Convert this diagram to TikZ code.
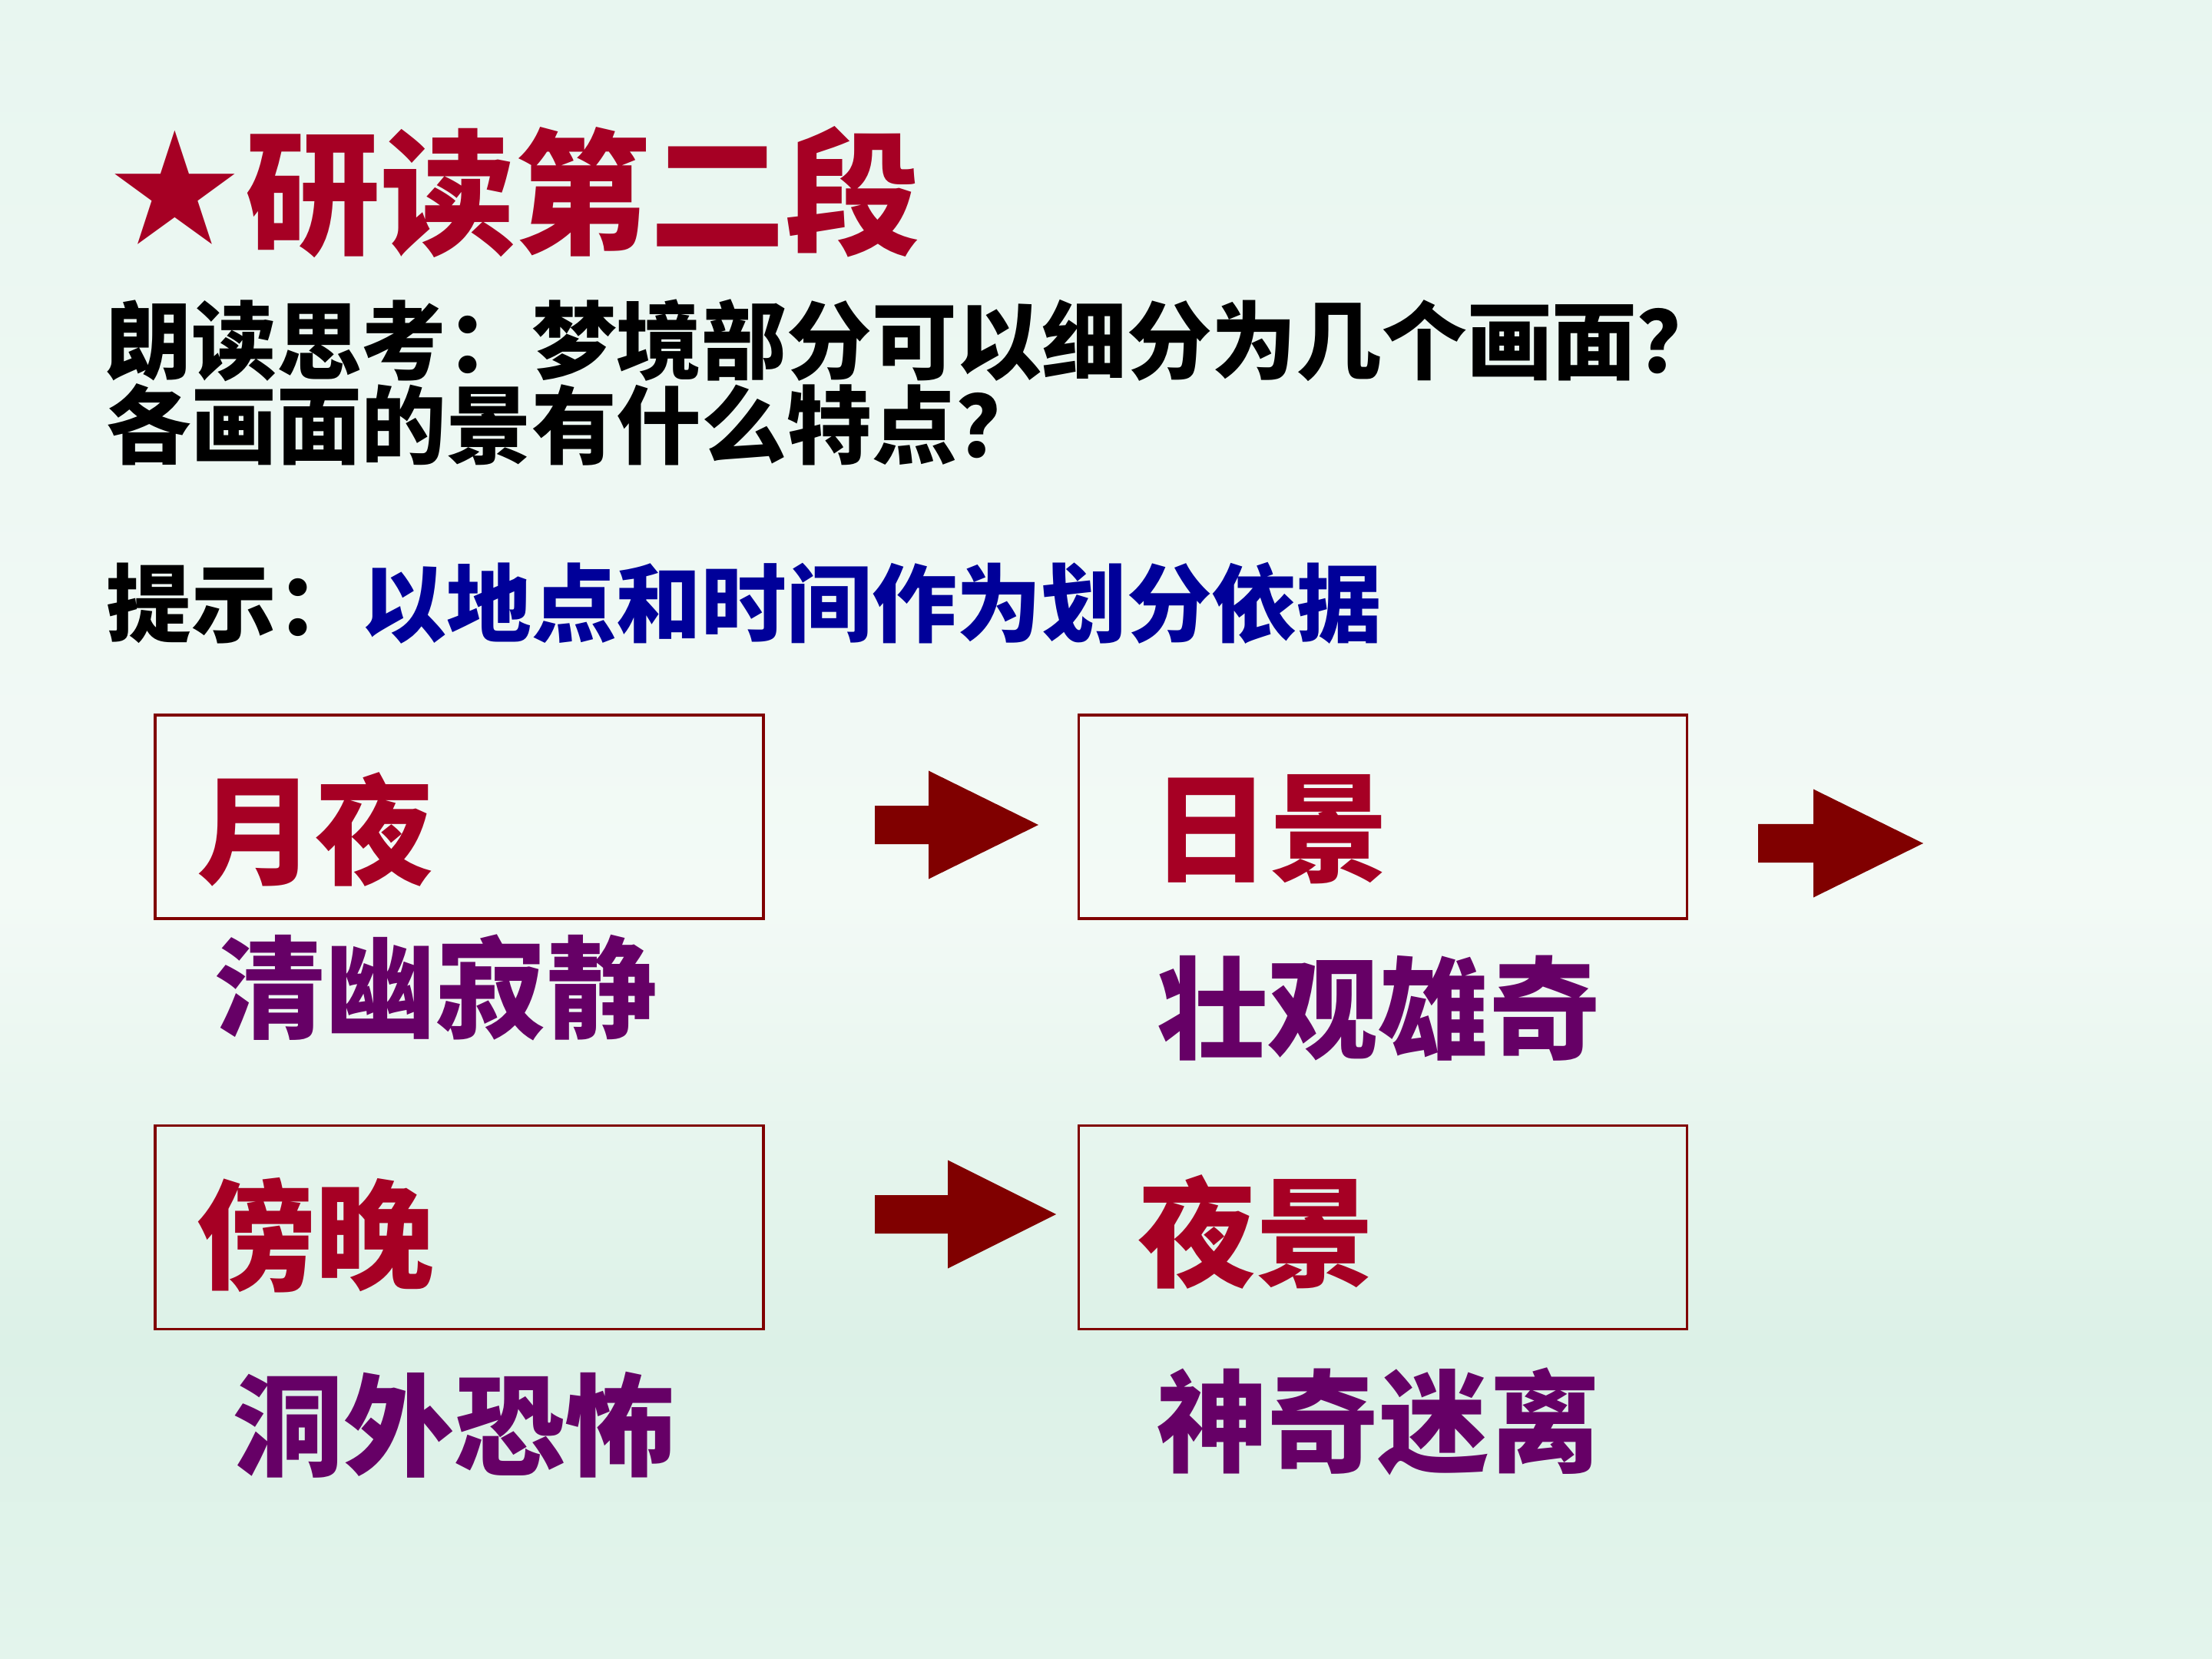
\documentclass[tikz,border=0pt]{standalone}
\usepackage{fontspec}
\setmainfont{Noto Sans CJK SC}
\newfontfamily\symfont{DejaVu Sans}
\usetikzlibrary{positioning}
\definecolor{titred}{RGB}{166,0,36}
\definecolor{cadre}{RGB}{128,0,0}
\definecolor{descviolet}{RGB}{102,0,102}
\definecolor{hintblue}{RGB}{0,0,153}
\definecolor{fondhaut}{RGB}{232,246,240}
\definecolor{fondclair}{RGB}{243,250,246}
\definecolor{fondmilieu}{RGB}{220,241,231}
\definecolor{fondbas}{RGB}{227,244,236}

\begin{document}
\begin{tikzpicture}[
    titre/.style={anchor=west, inner sep=0pt, text=titred,
      font=\bfseries\fontsize{50pt}{50pt}\selectfont},
    question/.style={anchor=west, inner sep=0pt, align=left,
      font=\bfseries\fontsize{31.5pt}{30pt}\selectfont},
    scene/.style={rectangle, draw=cadre, line width=0.9pt,
      minimum width=7.92cm, minimum height=2.65cm, inner sep=0pt},
    scenetxt/.style={inner sep=0pt, text=titred,
      font=\bfseries\fontsize{44pt}{44pt}\selectfont},
    desc/.style={anchor=west, inner sep=0pt, text=descviolet,
      font=\bfseries\fontsize{41pt}{41pt}\selectfont},
    fleche/.style={fill=cadre, draw=none}
  ]
    % fond
    \useasboundingbox (0,0) rectangle (28.8,-21.6);
    \shade[top color=fondhaut, bottom color=fondclair] (0,0) rectangle (28.8,-11.7);
    \shade[top color=fondclair, bottom color=fondmilieu] (0,-11.7) rectangle (28.8,-17.5);
    \shade[top color=fondmilieu, bottom color=fondbas] (0,-17.5) rectangle (28.8,-21.6);

    \node[titre] (titre) at (1.36,-2.50) {{\symfont\fontsize{58pt}{58pt}\selectfont ★}研读第二段};
    \node[question] (question) at (1.38,-4.98)
      {朗读思考：梦境部分可以细分为几个画面？\\各画面的景有什么特点？};
    \node[question] (tishi) at (1.38,-7.85) {提示：\textcolor{hintblue}{以地点和时间作为划分依据}};

    \node[scene] (yueye) at (5.98,-10.635) {};
    \node[scene, right=4.07cm of yueye] (rijing) {};
    \node[scene, below=2.66cm of yueye] (bangwan) {};
    \node[scene, below=2.66cm of rijing] (yejing) {};

    \node[scenetxt, right=0.55cm of yueye.west, yshift=-0.165cm] (t1) {月夜};
    \node[scenetxt, right=0.96cm of rijing.west, yshift=-0.165cm] (t2) {日景};
    \node[scenetxt, right=0.55cm of bangwan.west, yshift=-0.11cm] (t3) {傍晚};
    \node[scenetxt, right=0.78cm of yejing.west, yshift=-0.06cm] (t4) {夜景};

    \node[desc] (d1) at (2.79,-12.86) {清幽寂静};
    \node[desc] (d2) at (15.06,-13.13) {壮观雄奇};
    \node[desc] (d3) at (3.03,-18.55) {洞外恐怖};
    \node[desc] (d4) at (15.06,-18.51) {神奇迷离};

    % fleches pleines
    \coordinate (f1) at (11.39,-10.74);
    \coordinate (f2) at (22.89,-10.98);
    \coordinate (f3) at (11.39,-15.81);
    \fill[fleche] (f1) ++(0,0.25) -- ++(0.70,0) -- ++(0,0.455) -- ++(1.43,-0.705)
      -- ++(-1.43,-0.705) -- ++(0,0.455) -- ++(-0.70,0) -- cycle;
    \fill[fleche] (f2) ++(0,0.25) -- ++(0.72,0) -- ++(0,0.455) -- ++(1.43,-0.705)
      -- ++(-1.43,-0.705) -- ++(0,0.455) -- ++(-0.72,0) -- cycle;
    \fill[fleche] (f3) ++(0,0.25) -- ++(0.95,0) -- ++(0,0.455) -- ++(1.41,-0.705)
      -- ++(-1.41,-0.705) -- ++(0,0.455) -- ++(-0.95,0) -- cycle;
  \end{tikzpicture}
\end{document}
